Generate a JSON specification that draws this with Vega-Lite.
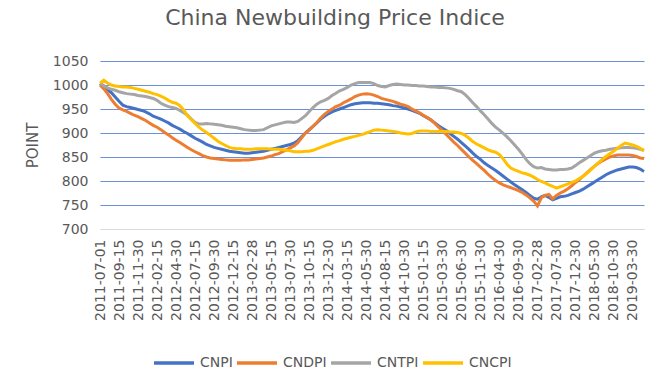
{
  "$schema": "https://vega.github.io/schema/vega-lite/v6.json",
  "width": 548,
  "height": 168,
  "autosize": {"type": "none"},
  "padding": {"left": 100, "top": 61, "right": 22, "bottom": 151},
  "background": "white",
  "title": {"text": "China Newbuilding Price Indice", "fontSize": 22, "font": "DejaVu Sans", "fontWeight": "normal", "color": "#595959", "offset": 24, "anchor": "middle", "dx": -39},
  "config": {"view": {"stroke": null}, "font": "DejaVu Sans"},
  "data": {"values": [
    {"date":"2011-07-01","CNPI":1003,"CNDPI":1000,"CNTPI":1003,"CNCPI":1004},
    {"date":"2011-07-15","CNPI":998,"CNDPI":992,"CNTPI":998,"CNCPI":1010},
    {"date":"2011-07-30","CNPI":990,"CNDPI":982,"CNTPI":994,"CNCPI":1004},
    {"date":"2011-08-15","CNPI":984,"CNDPI":970,"CNTPI":991,"CNCPI":1000},
    {"date":"2011-08-30","CNPI":975,"CNDPI":960,"CNTPI":989,"CNCPI":998},
    {"date":"2011-09-15","CNPI":966,"CNDPI":952,"CNTPI":986,"CNCPI":997},
    {"date":"2011-09-30","CNPI":958,"CNDPI":948,"CNTPI":984,"CNCPI":996},
    {"date":"2011-10-15","CNPI":955,"CNDPI":945,"CNTPI":982,"CNCPI":996},
    {"date":"2011-10-30","CNPI":953,"CNDPI":941,"CNTPI":981,"CNCPI":995},
    {"date":"2011-11-15","CNPI":951,"CNDPI":937,"CNTPI":980,"CNCPI":993},
    {"date":"2011-11-30","CNPI":949,"CNDPI":934,"CNTPI":978,"CNCPI":991},
    {"date":"2011-12-15","CNPI":947,"CNDPI":930,"CNTPI":977,"CNCPI":989},
    {"date":"2011-12-30","CNPI":944,"CNDPI":926,"CNTPI":976,"CNCPI":987},
    {"date":"2012-01-15","CNPI":940,"CNDPI":921,"CNTPI":974,"CNCPI":985},
    {"date":"2012-01-30","CNPI":935,"CNDPI":916,"CNTPI":972,"CNCPI":982},
    {"date":"2012-02-15","CNPI":932,"CNDPI":912,"CNTPI":968,"CNCPI":980},
    {"date":"2012-02-29","CNPI":929,"CNDPI":907,"CNTPI":962,"CNCPI":977},
    {"date":"2012-03-15","CNPI":925,"CNDPI":901,"CNTPI":958,"CNCPI":973},
    {"date":"2012-03-30","CNPI":921,"CNDPI":896,"CNTPI":955,"CNCPI":968},
    {"date":"2012-04-15","CNPI":916,"CNDPI":890,"CNTPI":953,"CNCPI":964},
    {"date":"2012-04-30","CNPI":912,"CNDPI":885,"CNTPI":951,"CNCPI":962},
    {"date":"2012-05-15","CNPI":908,"CNDPI":880,"CNTPI":947,"CNCPI":957},
    {"date":"2012-05-30","CNPI":903,"CNDPI":875,"CNTPI":942,"CNCPI":948},
    {"date":"2012-06-15","CNPI":899,"CNDPI":870,"CNTPI":937,"CNCPI":936},
    {"date":"2012-06-30","CNPI":894,"CNDPI":865,"CNTPI":929,"CNCPI":928},
    {"date":"2012-07-15","CNPI":889,"CNDPI":861,"CNTPI":922,"CNCPI":920},
    {"date":"2012-07-30","CNPI":885,"CNDPI":857,"CNTPI":919,"CNCPI":912},
    {"date":"2012-08-15","CNPI":881,"CNDPI":853,"CNTPI":919,"CNCPI":906},
    {"date":"2012-08-30","CNPI":876,"CNDPI":850,"CNTPI":920,"CNCPI":901},
    {"date":"2012-09-15","CNPI":873,"CNDPI":848,"CNTPI":919,"CNCPI":895},
    {"date":"2012-09-30","CNPI":870,"CNDPI":847,"CNTPI":918,"CNCPI":889},
    {"date":"2012-10-15","CNPI":868,"CNDPI":846,"CNTPI":917,"CNCPI":883},
    {"date":"2012-10-30","CNPI":866,"CNDPI":845,"CNTPI":916,"CNCPI":878},
    {"date":"2012-11-15","CNPI":864,"CNDPI":844,"CNTPI":914,"CNCPI":874},
    {"date":"2012-11-30","CNPI":862,"CNDPI":843,"CNTPI":913,"CNCPI":870},
    {"date":"2012-12-15","CNPI":861,"CNDPI":843,"CNTPI":912,"CNCPI":868},
    {"date":"2012-12-30","CNPI":860,"CNDPI":843,"CNTPI":911,"CNCPI":867},
    {"date":"2013-01-15","CNPI":859,"CNDPI":843,"CNTPI":909,"CNCPI":867},
    {"date":"2013-01-30","CNPI":858,"CNDPI":844,"CNTPI":907,"CNCPI":866},
    {"date":"2013-02-15","CNPI":858,"CNDPI":844,"CNTPI":906,"CNCPI":866},
    {"date":"2013-02-28","CNPI":859,"CNDPI":845,"CNTPI":905,"CNCPI":866},
    {"date":"2013-03-15","CNPI":860,"CNDPI":846,"CNTPI":905,"CNCPI":867},
    {"date":"2013-03-30","CNPI":861,"CNDPI":847,"CNTPI":906,"CNCPI":867},
    {"date":"2013-04-15","CNPI":862,"CNDPI":848,"CNTPI":907,"CNCPI":867},
    {"date":"2013-04-30","CNPI":864,"CNDPI":850,"CNTPI":911,"CNCPI":867},
    {"date":"2013-05-15","CNPI":866,"CNDPI":852,"CNTPI":915,"CNCPI":866},
    {"date":"2013-05-30","CNPI":868,"CNDPI":855,"CNTPI":917,"CNCPI":866},
    {"date":"2013-06-15","CNPI":870,"CNDPI":857,"CNTPI":919,"CNCPI":866},
    {"date":"2013-06-30","CNPI":872,"CNDPI":861,"CNTPI":921,"CNCPI":865},
    {"date":"2013-07-15","CNPI":874,"CNDPI":865,"CNTPI":923,"CNCPI":864},
    {"date":"2013-07-30","CNPI":876,"CNDPI":869,"CNTPI":923,"CNCPI":863},
    {"date":"2013-08-15","CNPI":879,"CNDPI":873,"CNTPI":922,"CNCPI":861},
    {"date":"2013-08-30","CNPI":884,"CNDPI":880,"CNTPI":924,"CNCPI":861},
    {"date":"2013-09-15","CNPI":892,"CNDPI":890,"CNTPI":930,"CNCPI":861},
    {"date":"2013-09-30","CNPI":900,"CNDPI":900,"CNTPI":936,"CNCPI":862},
    {"date":"2013-10-15","CNPI":907,"CNDPI":906,"CNTPI":945,"CNCPI":862},
    {"date":"2013-10-30","CNPI":914,"CNDPI":914,"CNTPI":953,"CNCPI":864},
    {"date":"2013-11-15","CNPI":921,"CNDPI":922,"CNTPI":960,"CNCPI":867},
    {"date":"2013-11-30","CNPI":929,"CNDPI":931,"CNTPI":965,"CNCPI":870},
    {"date":"2013-12-15","CNPI":935,"CNDPI":939,"CNTPI":968,"CNCPI":873},
    {"date":"2013-12-30","CNPI":940,"CNDPI":945,"CNTPI":972,"CNCPI":876},
    {"date":"2014-01-15","CNPI":944,"CNDPI":950,"CNTPI":978,"CNCPI":879},
    {"date":"2014-01-30","CNPI":947,"CNDPI":955,"CNTPI":983,"CNCPI":882},
    {"date":"2014-02-15","CNPI":950,"CNDPI":958,"CNTPI":988,"CNCPI":884},
    {"date":"2014-02-28","CNPI":953,"CNDPI":963,"CNTPI":991,"CNCPI":887},
    {"date":"2014-03-15","CNPI":956,"CNDPI":967,"CNTPI":995,"CNCPI":889},
    {"date":"2014-03-30","CNPI":959,"CNDPI":971,"CNTPI":1000,"CNCPI":891},
    {"date":"2014-04-15","CNPI":961,"CNDPI":976,"CNTPI":1003,"CNCPI":893},
    {"date":"2014-04-30","CNPI":962,"CNDPI":979,"CNTPI":1005,"CNCPI":895},
    {"date":"2014-05-15","CNPI":963,"CNDPI":981,"CNTPI":1005,"CNCPI":897},
    {"date":"2014-05-30","CNPI":963,"CNDPI":982,"CNTPI":1005,"CNCPI":900},
    {"date":"2014-06-15","CNPI":963,"CNDPI":981,"CNTPI":1005,"CNCPI":903},
    {"date":"2014-06-30","CNPI":962,"CNDPI":979,"CNTPI":1003,"CNCPI":906},
    {"date":"2014-07-15","CNPI":962,"CNDPI":976,"CNTPI":999,"CNCPI":907},
    {"date":"2014-07-30","CNPI":961,"CNDPI":972,"CNTPI":997,"CNCPI":906},
    {"date":"2014-08-15","CNPI":960,"CNDPI":970,"CNTPI":996,"CNCPI":905},
    {"date":"2014-08-30","CNPI":959,"CNDPI":968,"CNTPI":999,"CNCPI":904},
    {"date":"2014-09-15","CNPI":957,"CNDPI":966,"CNTPI":1001,"CNCPI":903},
    {"date":"2014-09-30","CNPI":956,"CNDPI":963,"CNTPI":1002,"CNCPI":902},
    {"date":"2014-10-15","CNPI":954,"CNDPI":960,"CNTPI":1001,"CNCPI":900},
    {"date":"2014-10-30","CNPI":952,"CNDPI":958,"CNTPI":1000,"CNCPI":899},
    {"date":"2014-11-15","CNPI":950,"CNDPI":955,"CNTPI":1000,"CNCPI":898},
    {"date":"2014-11-30","CNPI":947,"CNDPI":950,"CNTPI":999,"CNCPI":899},
    {"date":"2014-12-15","CNPI":944,"CNDPI":946,"CNTPI":999,"CNCPI":902},
    {"date":"2014-12-30","CNPI":941,"CNDPI":942,"CNTPI":998,"CNCPI":904},
    {"date":"2015-01-15","CNPI":936,"CNDPI":937,"CNTPI":998,"CNCPI":904},
    {"date":"2015-01-30","CNPI":932,"CNDPI":932,"CNTPI":997,"CNCPI":904},
    {"date":"2015-02-15","CNPI":927,"CNDPI":927,"CNTPI":996,"CNCPI":903},
    {"date":"2015-02-28","CNPI":921,"CNDPI":920,"CNTPI":996,"CNCPI":903},
    {"date":"2015-03-15","CNPI":915,"CNDPI":912,"CNTPI":995,"CNCPI":903},
    {"date":"2015-03-30","CNPI":910,"CNDPI":905,"CNTPI":995,"CNCPI":903},
    {"date":"2015-04-15","CNPI":905,"CNDPI":897,"CNTPI":994,"CNCPI":903},
    {"date":"2015-04-30","CNPI":899,"CNDPI":889,"CNTPI":993,"CNCPI":902},
    {"date":"2015-05-15","CNPI":893,"CNDPI":881,"CNTPI":991,"CNCPI":902},
    {"date":"2015-05-30","CNPI":887,"CNDPI":874,"CNTPI":988,"CNCPI":901},
    {"date":"2015-06-30","CNPI":880,"CNDPI":866,"CNTPI":986,"CNCPI":899},
    {"date":"2015-07-30","CNPI":873,"CNDPI":858,"CNTPI":980,"CNCPI":895},
    {"date":"2015-08-30","CNPI":866,"CNDPI":850,"CNTPI":972,"CNCPI":889},
    {"date":"2015-09-30","CNPI":858,"CNDPI":843,"CNTPI":963,"CNCPI":882},
    {"date":"2015-10-30","CNPI":851,"CNDPI":836,"CNTPI":955,"CNCPI":877},
    {"date":"2015-11-30","CNPI":845,"CNDPI":829,"CNTPI":946,"CNCPI":873},
    {"date":"2015-12-30","CNPI":838,"CNDPI":822,"CNTPI":938,"CNCPI":869},
    {"date":"2016-01-30","CNPI":832,"CNDPI":814,"CNTPI":929,"CNCPI":865},
    {"date":"2016-02-28","CNPI":827,"CNDPI":807,"CNTPI":920,"CNCPI":862},
    {"date":"2016-03-30","CNPI":822,"CNDPI":801,"CNTPI":912,"CNCPI":860},
    {"date":"2016-04-30","CNPI":816,"CNDPI":796,"CNTPI":906,"CNCPI":855},
    {"date":"2016-05-30","CNPI":810,"CNDPI":792,"CNTPI":899,"CNCPI":846},
    {"date":"2016-06-30","CNPI":804,"CNDPI":789,"CNTPI":892,"CNCPI":835},
    {"date":"2016-07-30","CNPI":798,"CNDPI":786,"CNTPI":884,"CNCPI":827},
    {"date":"2016-08-30","CNPI":792,"CNDPI":783,"CNTPI":875,"CNCPI":823},
    {"date":"2016-09-30","CNPI":787,"CNDPI":780,"CNTPI":866,"CNCPI":820},
    {"date":"2016-10-30","CNPI":782,"CNDPI":776,"CNTPI":856,"CNCPI":817},
    {"date":"2016-11-30","CNPI":776,"CNDPI":771,"CNTPI":845,"CNCPI":815},
    {"date":"2016-12-30","CNPI":770,"CNDPI":765,"CNTPI":836,"CNCPI":812},
    {"date":"2017-01-30","CNPI":764,"CNDPI":758,"CNTPI":830,"CNCPI":808},
    {"date":"2017-02-28","CNPI":762,"CNDPI":748,"CNTPI":827,"CNCPI":803},
    {"date":"2017-03-30","CNPI":767,"CNDPI":765,"CNTPI":828,"CNCPI":799},
    {"date":"2017-04-30","CNPI":770,"CNDPI":770,"CNTPI":825,"CNCPI":796},
    {"date":"2017-05-30","CNPI":766,"CNDPI":772,"CNTPI":824,"CNCPI":792},
    {"date":"2017-06-30","CNPI":761,"CNDPI":763,"CNTPI":823,"CNCPI":789},
    {"date":"2017-07-30","CNPI":764,"CNDPI":770,"CNTPI":823,"CNCPI":785},
    {"date":"2017-08-30","CNPI":767,"CNDPI":775,"CNTPI":824,"CNCPI":788},
    {"date":"2017-09-30","CNPI":768,"CNDPI":779,"CNTPI":824,"CNCPI":791},
    {"date":"2017-10-30","CNPI":770,"CNDPI":784,"CNTPI":825,"CNCPI":794},
    {"date":"2017-11-30","CNPI":773,"CNDPI":790,"CNTPI":827,"CNCPI":797},
    {"date":"2017-12-30","CNPI":776,"CNDPI":797,"CNTPI":832,"CNCPI":800},
    {"date":"2018-01-30","CNPI":779,"CNDPI":803,"CNTPI":838,"CNCPI":805},
    {"date":"2018-02-28","CNPI":783,"CNDPI":810,"CNTPI":843,"CNCPI":810},
    {"date":"2018-03-30","CNPI":788,"CNDPI":817,"CNTPI":848,"CNCPI":816},
    {"date":"2018-04-30","CNPI":793,"CNDPI":824,"CNTPI":853,"CNCPI":823},
    {"date":"2018-05-30","CNPI":798,"CNDPI":831,"CNTPI":858,"CNCPI":831},
    {"date":"2018-06-30","CNPI":803,"CNDPI":837,"CNTPI":861,"CNCPI":838},
    {"date":"2018-07-30","CNPI":808,"CNDPI":842,"CNTPI":863,"CNCPI":845},
    {"date":"2018-08-30","CNPI":813,"CNDPI":846,"CNTPI":864,"CNCPI":851},
    {"date":"2018-09-30","CNPI":817,"CNDPI":850,"CNTPI":866,"CNCPI":857},
    {"date":"2018-10-30","CNPI":820,"CNDPI":852,"CNTPI":867,"CNCPI":862},
    {"date":"2018-11-30","CNPI":823,"CNDPI":854,"CNTPI":868,"CNCPI":868},
    {"date":"2018-12-30","CNPI":825,"CNDPI":854,"CNTPI":869,"CNCPI":874},
    {"date":"2019-01-30","CNPI":827,"CNDPI":854,"CNTPI":870,"CNCPI":879},
    {"date":"2019-02-28","CNPI":829,"CNDPI":854,"CNTPI":870,"CNCPI":877},
    {"date":"2019-03-30","CNPI":829,"CNDPI":853,"CNTPI":869,"CNCPI":875},
    {"date":"2019-04-30","CNPI":828,"CNDPI":851,"CNTPI":868,"CNCPI":872},
    {"date":"2019-05-30","CNPI":825,"CNDPI":848,"CNTPI":866,"CNCPI":868},
    {"date":"2019-06-30","CNPI":820,"CNDPI":847,"CNTPI":864,"CNCPI":863}
  ]},
  "transform": [{"fold": ["CNPI", "CNDPI", "CNTPI", "CNCPI"], "as": ["series", "value"]}],
  "mark": {"type": "line", "strokeWidth": 3},
  "encoding": {
    "x": {
      "field": "date", "type": "ordinal", "sort": null,
      "scale": {"type": "point", "padding": 0, "range": [0, 544]},
      "axis": {
        "title": null,
        "values": ["2011-07-01","2011-09-15","2011-11-30","2012-02-15","2012-04-30","2012-07-15","2012-09-30","2012-12-15","2013-02-28","2013-05-15","2013-07-30","2013-10-15","2013-12-30","2014-03-15","2014-05-30","2014-08-15","2014-10-30","2015-01-15","2015-03-30","2015-06-30","2015-11-30","2016-04-30","2016-09-30","2017-02-28","2017-07-30","2017-12-30","2018-05-30","2018-10-30","2019-03-30"],
        "labelAngle": -90, "labelFontSize": 14, "labelFont": "DejaVu Sans", "labelColor": "#595959", "ticks": false,
        "domainColor": "#d9d9d9", "domainWidth": 1, "grid": false, "labelPadding": 10
      }
    },
    "y": {
      "field": "value", "type": "quantitative",
      "scale": {"domain": [700, 1050], "nice": false, "zero": false},
      "axis": {
        "title": "POINT", "values": [700, 750, 800, 850, 900, 950, 1000, 1050], "format": "d",
        "titleFontSize": 15, "titleFont": "DejaVu Sans", "titleFontWeight": "normal", "titleColor": "#595959", "titlePadding": 12,
        "labelFontSize": 14, "labelFont": "DejaVu Sans", "labelColor": "#595959", "labelPadding": 12,
        "domain": false, "ticks": false,
        "gridColor": {"condition": {"test": "datum.value === 700", "value": "#d9d9d9"}, "value": "#6b90d8"},
        "gridWidth": 1
      }
    },
    "color": {
      "field": "series", "type": "nominal",
      "scale": {"domain": ["CNPI", "CNDPI", "CNTPI", "CNCPI"], "range": ["#4472C4", "#ED7D31", "#A5A5A5", "#FFC000"]},
      "legend": {
        "orient": "none", "legendX": 52, "legendY": 280, "direction": "horizontal", "title": null,
        "gridAlign": "none",
        "symbolType": "stroke", "symbolStrokeWidth": 3.5, "symbolSize": 1600,
        "labelFontSize": 14, "labelFont": "DejaVu Sans", "labelColor": "#595959", "columnPadding": -3, "labelOffset": 4
      }
    }
  }
}
